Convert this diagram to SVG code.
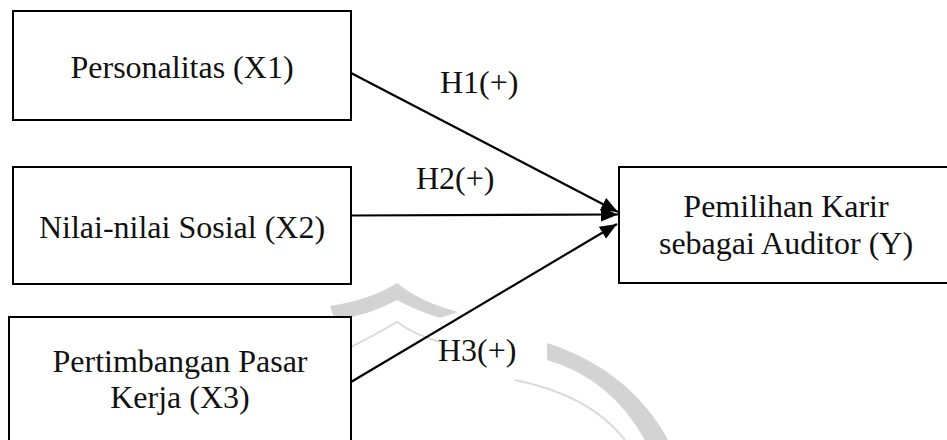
<svg xmlns="http://www.w3.org/2000/svg" width="947" height="440" viewBox="0 0 947 440">
<style>
.box{fill:#fff;stroke:#000;stroke-width:2}
.t{font-family:"Liberation Serif","Times New Roman",serif;font-size:32px;fill:#111;text-anchor:middle}
.lbl{font-family:"Liberation Serif","Times New Roman",serif;font-size:32px;fill:#111}
.con{fill:none;stroke:#000;stroke-width:2.2}
.wm{fill:#d3d3d3;stroke:none}
.wml{fill:none;stroke:#dadada;stroke-width:2}
</style>
<defs>
<marker id="ah" markerUnits="userSpaceOnUse" markerWidth="18" markerHeight="16" refX="17" refY="7" orient="auto">
<path d="M0,0 L17,7 L0,14 z" fill="#000"/>
</marker>
</defs>
<rect width="947" height="440" fill="#fff"/>
<g id="watermark">
<path class="wm" d="M330,306 Q370,300 397,283 Q420,302 458,312 L440,318 Q415,310 397,300 Q370,315 335,320 z"/>
<path class="wml" d="M345,350 Q375,335 397,322 Q415,335 440,342"/>
<path class="wm" d="M547,343 Q630,370 668,440 L645,440 Q610,378 547,360 z"/>
<path class="wml" d="M515,380 Q590,395 625,440"/>
</g>
<g id="node-x1">
<rect class="box" x="13" y="11" width="338" height="109"/>
<text class="t" x="182" y="78">Personalitas (X1)</text>
</g>
<g id="node-x2">
<rect class="box" x="13" y="167" width="338" height="117"/>
<text class="t" x="182" y="238">Nilai-nilai Sosial (X2)</text>
</g>
<g id="node-x3">
<rect class="box" x="9" y="317" width="342" height="140"/>
<text class="t" x="180" y="372">Pertimbangan Pasar</text>
<text class="t" x="180" y="408">Kerja (X3)</text>
</g>
<g id="node-y">
<rect class="box" x="619" y="167" width="340" height="116"/>
<text class="t" x="786" y="217">Pemilihan Karir</text>
<text class="t" x="786" y="254">sebagai Auditor (Y)</text>
</g>
<g id="connectors">
<line class="con" x1="351" y1="73" x2="618" y2="212" marker-end="url(#ah)"/>
<line class="con" x1="351" y1="215.5" x2="618" y2="214.5" marker-end="url(#ah)"/>
<line class="con" x1="351" y1="382" x2="617" y2="224" marker-end="url(#ah)"/>
<text class="lbl" x="440" y="93">H1(+)</text>
<text class="lbl" x="416" y="189">H2(+)</text>
<text class="lbl" x="438" y="361">H3(+)</text>
</g>
</svg>
